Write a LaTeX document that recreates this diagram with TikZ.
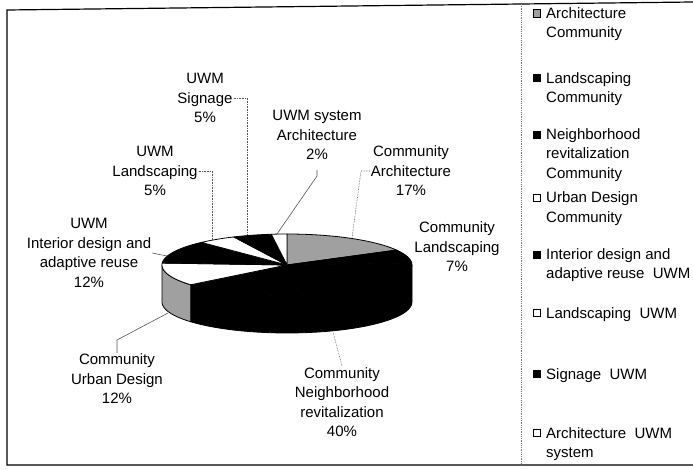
\documentclass[tikz,border=0pt]{standalone}
\usepackage{fontspec}
\setmainfont{Liberation Sans}
\usetikzlibrary{positioning}
\definecolor{slice_gray}{RGB}{160,160,160}
\definecolor{leader_gray}{RGB}{85,85,85}
\definecolor{frame_gray}{RGB}{120,120,120}

\begin{document}
\begin{tikzpicture}[x=1pt,y=-1pt,font=\fontsize{15}{19.5}\selectfont]
    \tikzstyle{lbl}=[align=center, inner sep=1pt, text=black]
    \tikzstyle{lgd}=[align=left, anchor=west, inner sep=0pt, text=black]
    \tikzstyle{lgbox}=[draw=black, minimum size=7.5pt, inner sep=0pt, line width=0.6pt]
    \tikzstyle{leader}=[draw=leader_gray, line width=0.6pt]
    \tikzstyle{leaderdot}=[leader, densely dotted]
    \tikzstyle{slice}=[draw=black, line width=0.8pt, line join=round]

    \useasboundingbox (0,0) rectangle (693,470);
    \fill[white] (0,0) rectangle (693,470);

    % frame and legend divider
    \draw[line width=1.2pt] (693,2) -- (7,10) -- (7,465) -- (693,465);
    \draw[frame_gray, densely dotted, line width=0.8pt] (521,4) -- (521,465);

    % side of the pie (front half only)
    \filldraw[slice, fill=black]
      plot[domain=0:-140.4, samples=40] ({287+125*cos(\x)},{265-31*sin(\x)})
      -- plot[domain=-140.4:0, samples=40] ({287+125*cos(\x)},{302-31*sin(\x)}) -- cycle;
    \filldraw[slice, fill=slice_gray]
      plot[domain=-140.4:-180, samples=20] ({287+125*cos(\x)},{265-31*sin(\x)})
      -- plot[domain=-180:-140.4, samples=20] ({287+125*cos(\x)},{302-31*sin(\x)}) -- cycle;

    % top of the pie, clockwise from 12 o'clock
    \foreach \s/\e/\c in {90/28.8/slice_gray, 28.8/3.6/black, 3.6/-140.4/black,
                          -140.4/-183.6/white, 176.4/133.2/black, 133.2/115.2/white,
                          115.2/97.2/black, 97.2/90/white}
      \filldraw[slice, fill=\c] (287,265)
        -- plot[domain=\s:\e, samples=30] ({287+125*cos(\x)},{265-31*sin(\x)}) -- cycle;

    % slice labels
    \node[lbl] (sig)     at (205,98)  {UWM\\Signage\\5\%};
    \node[lbl] (sysarch) at (317,135) {UWM system\\Architecture\\2\%};
    \node[lbl] (comarch) at (411,171) {Community\\Architecture\\17\%};
    \node[lbl] (comland) at (457,247) {Community\\Landscaping\\7\%};
    \node[lbl] (uwmland) at (155,171) {UWM\\Landscaping\\5\%};
    \node[lbl] (interior) at (89,253) {UWM\\Interior design and\\adaptive reuse\\12\%};
    \node[lbl] (urban)   at (117,379) {Community\\Urban Design\\12\%};
    \node[lbl] (neigh)   at (342,402) {Community\\Neighborhood\\revitalization\\40\%};

    % points on the rim
    \coordinate (rsig)  at (247,235);
    \coordinate (rland) at (212,240);
    \coordinate (rint)  at (167,256);
    \coordinate (ksys)  at (317,176);
    \coordinate (rsys)  at (277,234);
    \coordinate (kcar)  at (361,171);
    \coordinate (rcar)  at (352,238);
    \coordinate (kurb)  at (117,340);
    \coordinate (rurb)  at (168,313);
    \coordinate (rnei)  at (333,332);

    \draw[leaderdot] (sig.east) -| (rsig);
    \draw[leaderdot] (uwmland.east) -| (rland);
    \draw[leader] (interior.east) -- (rint);
    \draw[leader, shorten <=9pt] (sysarch.south) -- (ksys) -- (rsys);
    \draw[leaderdot] (comarch.west) -- (kcar) -- (rcar);
    \draw[leader] (urban.north) -- (kurb) -- (rurb);
    \draw[leaderdot] (neigh.north) -- (rnei);

    % legend
    \node[lgbox, fill=slice_gray] (m1) at (537,13.5) {};
    \node[lgbox, fill=black]      (m2) at (537,78)   {};
    \node[lgbox, fill=black]      (m3) at (537,135)  {};
    \node[lgbox, fill=white]      (m4) at (537,198)  {};
    \node[lgbox, fill=black]      (m5) at (537,255)  {};
    \node[lgbox, fill=white]      (m6) at (537,313)  {};
    \node[lgbox, fill=black]      (m7) at (537,374)  {};
    \node[lgbox, fill=white]      (m8) at (537,433)  {};

    \node[lgd] (t1) at (546,24)    {Architecture\\Community};
    \node[lgd] (t2) at (546,89)    {Landscaping\\Community};
    \node[lgd] (t3) at (546,155)   {Neighborhood\\revitalization\\Community};
    \node[lgd] (t4) at (546,208.5) {Urban Design\\Community};
    \node[lgd] (t5) at (546,265)   {Interior design and\\adaptive reuse\ \ UWM};
    \node[lgd] (t6) at (546,314.5) {Landscaping\ \ UWM};
    \node[lgd] (t7) at (546,375.5) {Signage\ \ UWM};
    \node[lgd] (t8) at (546,444)   {Architecture\ \ UWM\\system};
\end{tikzpicture}
\end{document}
